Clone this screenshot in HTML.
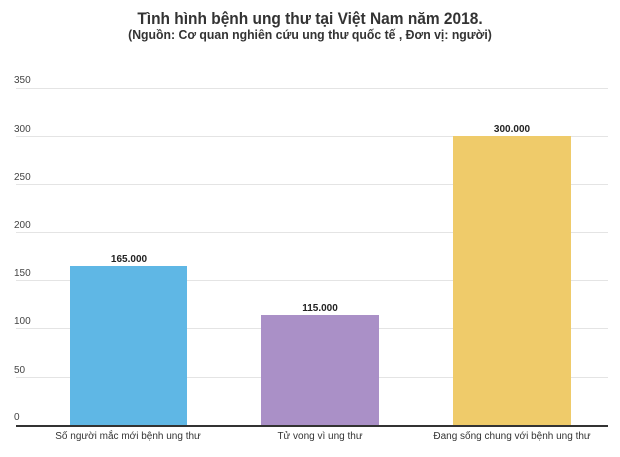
<!DOCTYPE html>
<html><head><meta charset="utf-8"><style>
body{margin:0;width:620px;height:457px;background:#fff;font-family:"Liberation Sans",sans-serif;position:relative;overflow:hidden}
.t{position:absolute;left:0;width:620px;text-align:center;color:#333;font-weight:bold}
.g{position:absolute;left:16px;width:592px;height:1px;background:#e4e4e4}
.yl{position:absolute;left:14px;font-size:10px;color:#444}
.b{position:absolute;bottom:32px}
.v{position:absolute;font-size:10px;font-weight:bold;color:#222;width:118px;text-align:center}
.c{position:absolute;top:431px;font-size:10px;color:#333;width:200px;text-align:center}
</style></head><body>
<div class="t" style="top:9px;font-size:17px;transform:scaleX(0.91)">Tình hình bệnh ung thư tại Việt Nam năm 2018.</div>
<div class="t" style="top:28px;font-size:12.5px;transform:scaleX(0.98)">(Nguồn: Cơ quan nghiên cứu ung thư quốc tế , Đơn vị: người)</div>
<div class="g" style="top:88px"></div><div class="yl" style="top:75px">350</div>
<div class="g" style="top:136px"></div><div class="yl" style="top:124px">300</div>
<div class="g" style="top:184px"></div><div class="yl" style="top:172px">250</div>
<div class="g" style="top:232px"></div><div class="yl" style="top:220px">200</div>
<div class="g" style="top:280px"></div><div class="yl" style="top:268px">150</div>
<div class="g" style="top:328px"></div><div class="yl" style="top:316px">100</div>
<div class="g" style="top:377px"></div><div class="yl" style="top:365px">50</div>
<div class="yl" style="top:412px">0</div>
<div class="b" style="left:70px;width:117px;top:266px;height:159px;background:#5fb7e5"></div>
<div class="b" style="left:261px;width:118px;top:315px;height:110px;background:#aa90c7"></div>
<div class="b" style="left:453px;width:118px;top:136px;height:289px;background:#efcb6a"></div>
<div style="position:absolute;left:16px;width:592px;top:425px;height:2px;background:#333"></div>
<div class="v" style="left:70px;top:254px">165.000</div>
<div class="v" style="left:261px;top:303px">115.000</div>
<div class="v" style="left:453px;top:124px">300.000</div>
<div class="c" style="left:28px">Số người mắc mới bệnh ung thư</div>
<div class="c" style="left:220px">Tử vong vì ung thư</div>
<div class="c" style="left:412px">Đang sống chung với bệnh ung thư</div>
</body></html>
